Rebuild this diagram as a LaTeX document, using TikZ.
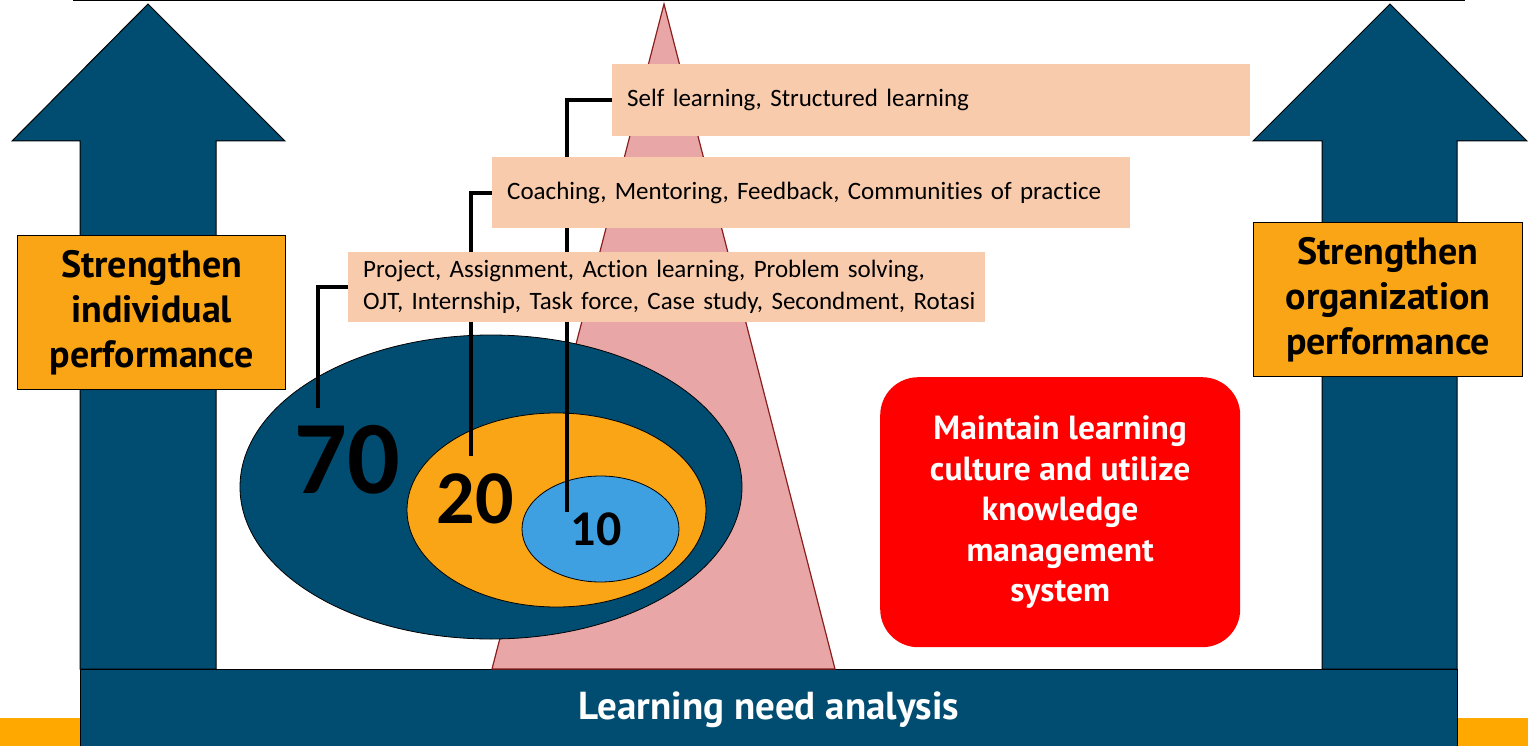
\documentclass[tikz,border=0pt]{standalone}
\usepackage{fontspec}
\setmainfont{Carlito}[Ligatures=CommonOff]
\newfontfamily\headfont{PT Sans}
\usetikzlibrary{shapes.geometric}

\definecolor{navy}{RGB}{0,77,113}
\definecolor{amber}{RGB}{249,165,22}
\definecolor{strip}{RGB}{255,168,0}
\definecolor{peach}{RGB}{248,203,173}
\definecolor{rose}{RGB}{232,166,166}
\definecolor{roseline}{RGB}{140,30,30}
\definecolor{sky}{RGB}{62,160,224}
\definecolor{alert}{RGB}{255,0,0}

\pgfdeclarelayer{front}
\pgfsetlayers{main,front}

\tikzset{
  bigarrow/.style={fill=navy, draw=black, line width=1pt},
  goalbox/.style={fill=amber, draw=black, line width=1.2pt, inner sep=0pt,
    minimum width=268pt, minimum height=154pt, align=center,
    font=\headfont\bfseries\fontsize{38}{45}\selectfont},
  ring/.style={ellipse, draw=black, line width=0.8pt, inner sep=0pt},
  pct/.style={text=black, inner sep=0pt},
  tag/.style={fill=peach, inner xsep=15pt, inner ysep=0pt, anchor=north west,
    align=left, font=\fontsize{25}{32}\selectfont},
  link/.style={line width=4pt, line cap=butt},
}

\begin{document}
\begin{tikzpicture}[x=1pt, y=-1pt]
\useasboundingbox (0,0) rectangle (1528,746);

% rule along the top edge
\draw[line width=2pt] (73,0.5) -- (1465,0.5);

% corner strips at the bottom
\fill[strip] (0,718) rectangle (80,746);
\fill[strip] (1457,718) rectangle (1528,746);

% upward arrows on both sides
\draw[bigarrow] (148,4) -- (285,141) -- (216,141) -- (216,669) -- (80,669)
  -- (80,141) -- (12,141) -- cycle;
\draw[bigarrow] (1390,4) -- (1527,141) -- (1457,141) -- (1457,669) -- (1322,669)
  -- (1322,141) -- (1253,141) -- cycle;

% base bar
\node[fill=navy, draw=black, line width=1pt, anchor=north west, inner sep=0pt,
  minimum width=1377pt, minimum height=80pt, text=white,
  font=\headfont\bfseries\fontsize{39}{42}\selectfont] (lna) at (80,669)
  {\raisebox{-3pt}{Learning need analysis}};

% pyramid
\draw[fill=rose, draw=roseline, line width=1.2pt] (664,4) -- (835,669) -- (492,669) -- cycle;

% 70-20-10 rings
\node[ring, fill=navy, minimum width=502pt, minimum height=304pt] (e70) at (491,487) {};
\node[ring, fill=amber, minimum width=299pt, minimum height=194pt] (e20) at (556.5,510) {};
\node[ring, fill=sky, minimum width=157pt, minimum height=106pt] (e10) at (600.5,529) {};

\node[pct, font=\bfseries\fontsize{104}{104}\selectfont] (n70) at (347,460) {70};
\node[pct, font=\bfseries\fontsize{76}{76}\selectfont] (n20) at (475,499) {20};
\node[pct, font=\bfseries\fontsize{50}{50}\selectfont] (n10) at (596,529) {10};

\coordinate (c70) at (318,408);
\coordinate (c20) at (471,456);
\coordinate (c10) at (567,512);

% learning activity labels, kept above the leader lines
\begin{pgfonlayer}{front}
\node[tag, text width=608pt, minimum height=72pt] (t10) at (612,64) {Self learning, Structured learning};
\node[tag, text width=608pt, minimum height=71pt] (t20) at (492,157) {Coaching, Mentoring, Feedback, Communities of practice};
\node[tag, text width=607pt, minimum height=70pt] (t70) at (348,252)
  {\mbox{Project, Assignment, Action learning, Problem solving,}\\
   \mbox{OJT, Internship, Task force, Case study, Secondment, Rotasi}};
\end{pgfonlayer}

% leaders from each ring to its label
\draw[link] (c70) |- (t70.west);
\draw[link] (c20) |- (t20.west);
\draw[link] (c10) |- (t10.west);

% goal boxes
\node[goalbox, anchor=north west] (gind) at (17,235) {Strengthen\\individual\\performance};
\node[goalbox, anchor=north west, minimum width=269pt] (gorg) at (1253,222) {Strengthen\\organization\\performance};

% knowledge management box
\node[fill=alert, rounded corners=38pt, anchor=north west, inner sep=0pt,
  minimum width=360pt, minimum height=270pt, align=center, text=white,
  font=\headfont\bfseries\fontsize{33.5}{40.5}\selectfont] (km) at (880,377)
  {Maintain learning\\culture and utilize\\knowledge\\management\\system};
\end{tikzpicture}
\end{document}
